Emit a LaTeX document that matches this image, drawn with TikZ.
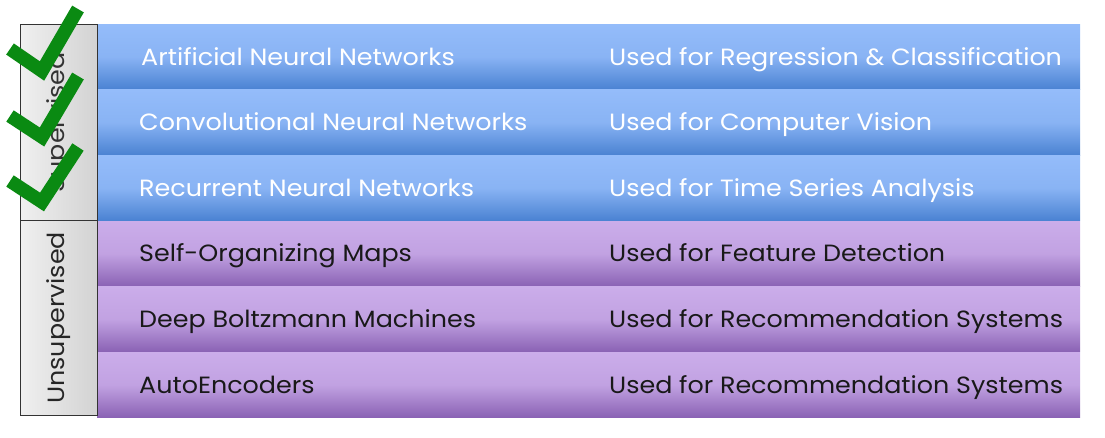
\documentclass[tikz,border=0pt]{standalone}
\usepackage{tikz}
\usepackage{xcolor}
\usepackage{fontspec}
\setmainfont{Poppins}[FakeStretch=1.08]
\usetikzlibrary{shapes,backgrounds,positioning}
\definecolor{bluetop}{HTML}{94BCFA}
\definecolor{bluebot}{HTML}{4A82D2}
\definecolor{purptop}{HTML}{CBADEA}
\definecolor{purpbot}{HTML}{8A62B4}
\definecolor{checkgreen}{HTML}{0A8A12}
\begin{document}
\begin{tikzpicture}[x=1pt,y=-1pt]
    \tikzstyle{row}=[rectangle, anchor=north west, inner sep=0pt, minimum width=983pt, minimum height=65.2pt, node distance=0pt]
    \tikzstyle{blue}=[row, top color=bluetop, bottom color=bluebot, middle color=bluetop!85!bluebot]
    \tikzstyle{purp}=[row, top color=purptop, bottom color=purpbot, middle color=purptop!85!purpbot]
    \tikzstyle{side}=[rectangle, anchor=north west, inner sep=0pt, minimum width=77pt, draw=black!80, thick, left color=gray!12, right color=gray!35]
    \tikzstyle{txt}=[anchor=base west, inner sep=0pt, yshift=-8.3pt, font=\fontsize{23.5}{28}\selectfont]
    \tikzstyle{check}=[line width=13.5pt, checkgreen, line join=miter]
    \useasboundingbox (0,0) rectangle (1105,437);
    \node[blue] (ann) at (97,24) {};
    \node[blue] (cnn) [below=of ann] {};
    \node[blue] (rnn) [below=of cnn] {};
    \node[purp] (som) [below=of rnn] {};
    \node[purp] (dbm) [below=of som] {};
    \node[purp] (ae) [below=of dbm] {};
    \node[side, minimum height=195.6pt] (sup) at (20,24) {};
    \node[side, minimum height=195.6pt] (unsup) at (20,219.6) {};
    \node[rotate=90, text=black!80, font=\fontsize{23.5}{28}\selectfont] at (sup.center) {Supervised};
    \node[rotate=90, text=black!85, font=\fontsize{23.5}{28}\selectfont] at (unsup.center) {Unsupervised};
    \node[txt, text=white] at ([xshift=44pt]ann.west) {Artificial Neural Networks};
    \node[txt, text=white] at ([xshift=512pt]ann.west) {Used for Regression \& Classification};
    \node[txt, text=white] at ([xshift=42pt]cnn.west) {Convolutional Neural Networks};
    \node[txt, text=white] at ([xshift=512pt]cnn.west) {Used for Computer Vision};
    \node[txt, text=white] at ([xshift=42pt]rnn.west) {Recurrent Neural Networks};
    \node[txt, text=white] at ([xshift=512pt]rnn.west) {Used for Time Series Analysis};
    \node[txt, text=black!90] at ([xshift=42pt]som.west) {Self-Organizing Maps};
    \node[txt, text=black!90] at ([xshift=512pt]som.west) {Used for Feature Detection};
    \node[txt, text=black!90] at ([xshift=42pt]dbm.west) {Deep Boltzmann Machines};
    \node[txt, text=black!90] at ([xshift=512pt]dbm.west) {Used for Recommendation Systems};
    \node[txt, text=black!90] at ([xshift=42pt]ae.west) {AutoEncoders};
    \node[txt, text=black!90] at ([xshift=512pt]ae.west) {Used for Recommendation Systems};
    \draw[check] (10,49) -- (42,71) -- (78,9);
    \draw[check] (10,116) -- (42,137) -- (78,76);
    \draw[check] (10,181) -- (42,202) -- (78,147);
\end{tikzpicture}
\end{document}
